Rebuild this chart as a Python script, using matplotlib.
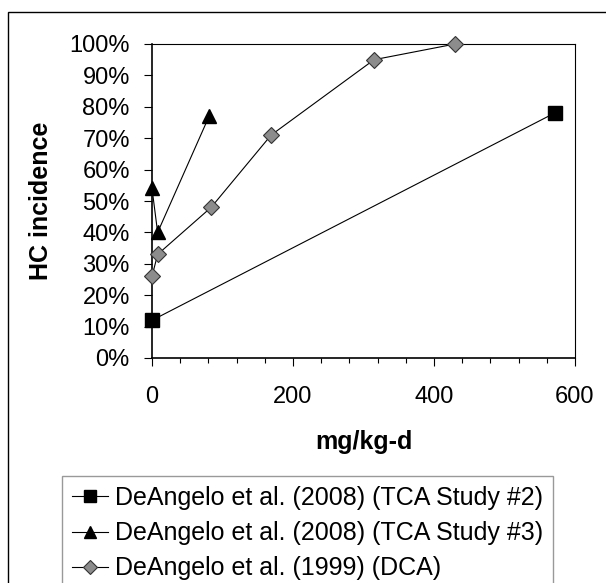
import matplotlib
matplotlib.use("Agg")
import matplotlib.pyplot as plt
from matplotlib.patches import Rectangle
from matplotlib.ticker import MultipleLocator, FuncFormatter

plt.rcParams['font.family'] = ['Liberation Sans', 'DejaVu Sans']

# data (dose in mg/kg-d, incidence in %)
tca2_dose = [0, 571]
tca2_pct = [12, 78]
tca3_dose = [0, 8, 81]
tca3_pct = [54, 40, 77]
dca_dose = [0, 8, 84, 169, 315, 430]
dca_pct = [26, 33, 48, 71, 95, 100]

labels = ['DeAngelo et al. (2008) (TCA Study #2)',
          'DeAngelo et al. (2008) (TCA Study #3)',
          'DeAngelo et al. (1999) (DCA)']

fig = plt.figure(figsize=(6.06, 5.83), dpi=100)
ax = fig.add_axes([152/606, 1-358/583, (575-152)/606, (358-44)/583])

ax.plot(tca2_dose, tca2_pct, color='black', lw=0.8, marker='s',
        markersize=10, markerfacecolor='black', markeredgecolor='black',
        label=labels[0], clip_on=False, zorder=3)
ax.plot(tca3_dose, tca3_pct, color='black', lw=0.8, marker='^',
        markersize=10, markerfacecolor='black', markeredgecolor='black',
        label=labels[1], clip_on=False, zorder=3)
ax.plot(dca_dose, dca_pct, color='black', lw=0.8, marker='D',
        markersize=8, markerfacecolor='#8c8c8c', markeredgecolor='#333333',
        markeredgewidth=0.8, label=labels[2], clip_on=False, zorder=3)

ax.set_xlim(0, 600)
ax.set_ylim(0, 100)
ax.xaxis.set_major_locator(MultipleLocator(200))
ax.xaxis.set_minor_locator(MultipleLocator(40))
ax.yaxis.set_major_locator(MultipleLocator(10))
ax.yaxis.set_major_formatter(FuncFormatter(lambda v, p: '%d%%' % v))

ax.tick_params(axis='both', which='both', direction='out', labelsize=17,
               width=0.8, color='black')
ax.tick_params(axis='x', which='major', length=6, pad=14)
ax.tick_params(axis='x', which='minor', length=3.5)
ax.tick_params(axis='y', which='major', length=6, pad=10)
for sp in ax.spines.values():
    sp.set_linewidth(0.8)
ax.spines['left'].set_linewidth(1.2)
ax.spines['bottom'].set_linewidth(1.2)

ax.set_xlabel('mg/kg-d', fontsize=18, fontweight='bold')
ax.set_ylabel('HC incidence', fontsize=18, fontweight='bold')
ax.xaxis.set_label_coords(0.5, -(442-358)/314)
ax.yaxis.set_label_coords(-(152-41)/423, 0.5)
ax.xaxis.label.set_va('center')
ax.yaxis.label.set_va('center')

leg = fig.legend(loc='upper left', bbox_to_anchor=(62/606, 1-476/583),
                 borderaxespad=0, fontsize=18, frameon=True, fancybox=False,
                 edgecolor='#808080', handlelength=1.42, handletextpad=0.3,
                 labelspacing=0.45, borderpad=0.4, markerscale=0.85)
leg.get_frame().set_linewidth(1.0)

# outer chart border
fig.patches.append(Rectangle((8/606, -0.05), 1.0, 1-12/583+0.05,
                             transform=fig.transFigure, fill=False,
                             edgecolor='black', lw=1.0))

fig.savefig('out.png', dpi=100)
